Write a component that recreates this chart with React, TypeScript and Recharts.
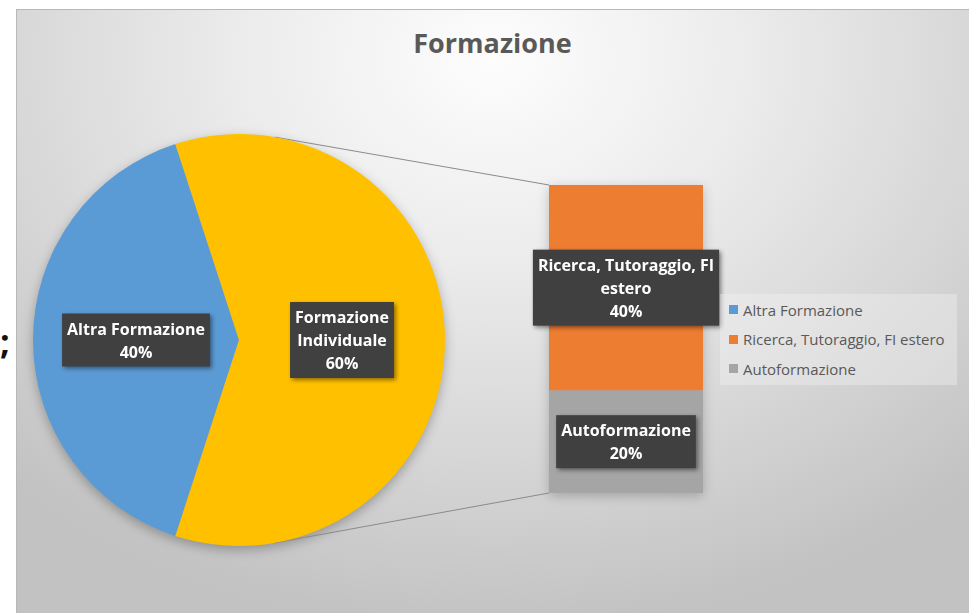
import React from 'react';
import { PieChart, Pie, Cell, BarChart, Bar, XAxis, YAxis, Legend, LabelList } from 'recharts';

// valori (percentuali)
const pieNames = ['Altra Formazione', 'Formazione Individuale'];
const altraValue = 40;
const barNames = ['Ricerca, Tutoraggio, FI estero', 'Autoformazione'];
const barValues = [40, 20];
const legendNames = ['Altra Formazione', 'Ricerca, Tutoraggio, FI estero', 'Autoformazione'];

const COLORS = {
  altra: '#5B9BD5',
  indiv: '#FFC000',
  ricerca: '#ED7D31',
  auto: '#A5A5A5',
};
const legendColors = [COLORS.altra, COLORS.ricerca, COLORS.auto];

const W = 969;
const H = 613;
const FONT = "'Open Sans', 'Noto Sans', sans-serif";

// geometria
const PIE_CX = 239;
const PIE_CY = 340;
const PIE_R = 206;
const BAR_MARGIN = { top: 185, right: 266, bottom: 120, left: 549 };

const barTotal = barValues.reduce((a, b) => a + b, 0);
const total = altraValue + barTotal;

const pieData = [
  { name: pieNames[0], value: altraValue },
  { name: pieNames[1], value: barTotal },
];
const pieColors = [COLORS.altra, COLORS.indiv];

const barData = [{ name: pieNames[1], ricerca: barValues[0], auto: barValues[1] }];

const pct = (v: number) => `${Math.round((v / total) * 100)}%`;

const LABEL_SIZE = 16;
let ctx: CanvasRenderingContext2D | null = null;
const measure = (s: string) => {
  if (!ctx) ctx = document.createElement('canvas').getContext('2d');
  if (!ctx) return s.length * 9;
  ctx.font = `bold ${LABEL_SIZE}px ${FONT}`;
  return ctx.measureText(s).width;
};

const wrap = (text: string, maxW: number) => {
  const words = text.split(' ');
  const lines: string[] = [];
  let cur = '';
  words.forEach((w) => {
    const next = cur ? cur + ' ' + w : w;
    if (cur && measure(next) > maxW) {
      lines.push(cur);
      cur = w;
    } else cur = next;
  });
  if (cur) lines.push(cur);
  return lines;
};

const LINE_H = 23;

const DarkLabel = ({ x, y, lines }: { x: number; y: number; lines: string[] }) => {
  const w = Math.max(...lines.map(measure)) + 10;
  const h = lines.length * LINE_H + 7;
  return (
    <g style={{ filter: 'drop-shadow(2px 2px 2px rgba(0,0,0,0.45))' }}>
      <rect x={x - w / 2} y={y - h / 2} width={w} height={h} fill="#404040" />
      {lines.map((l, i) => (
        <text
          key={i}
          x={x}
          y={y - ((lines.length - 1) * LINE_H) / 2 + i * LINE_H}
          textAnchor="middle"
          dominantBaseline="central"
          fill="#ffffff"
          fontFamily={FONT}
          fontWeight="bold"
          fontSize={LABEL_SIZE}
        >
          {l}
        </text>
      ))}
    </g>
  );
};

const renderPieLabel = (p: any) => {
  const RAD = Math.PI / 180;
  const r = p.outerRadius * 0.5;
  const x = p.cx + r * Math.cos(-p.midAngle * RAD);
  const y = p.cy + r * Math.sin(-p.midAngle * RAD);
  const name = p.name ?? p.payload?.name;
  return <DarkLabel x={x} y={y} lines={[...wrap(name, 160), pct(p.value)]} />;
};

const barLabel = (name: string) => (p: any) => {
  const x = Number(p.x) + Number(p.width) / 2;
  const y = Number(p.y) + Number(p.height) / 2;
  return <DarkLabel x={x} y={y} lines={[...wrap(name, 190), pct(Number(p.value))]} />;
};

const LegendBox = () => (
  <div
    style={{
      width: 237,
      height: 91,
      background: 'rgba(245,245,245,0.35)',
      boxSizing: 'border-box',
      paddingTop: 1,
      paddingLeft: 9,
    }}
  >
    {legendNames.map((n, i) => (
      <div key={n} style={{ display: 'flex', alignItems: 'center', height: 29.5 }}>
        <span style={{ width: 9, height: 9, background: legendColors[i], marginRight: 5 }} />
        <span style={{ fontFamily: FONT, fontSize: 15, color: '#595959' }}>{n}</span>
      </div>
    ))}
  </div>
);

export default function App() {
  const RAD = Math.PI / 180;
  const a = 80 * RAD;
  const barLeft = BAR_MARGIN.left;
  const barTop = BAR_MARGIN.top;
  const barBottom = H - BAR_MARGIN.bottom;
  const barWidth = W - BAR_MARGIN.left - BAR_MARGIN.right;
  const top = { x: PIE_CX + PIE_R * Math.cos(a), y: PIE_CY - PIE_R * Math.sin(a) };
  const bot = { x: PIE_CX + PIE_R * Math.cos(a), y: PIE_CY + PIE_R * Math.sin(a) };

  return (
    <div style={{ position: 'relative', width: W, height: H, background: '#ffffff', overflow: 'hidden' }}>
      <style>{'body{margin:0}'}</style>
      <div
        style={{
          position: 'absolute',
          left: 0,
          top: 318,
          fontFamily: FONT,
          fontWeight: 'bold',
          fontSize: 34,
          color: '#111',
        }}
      >
        ;
      </div>
      <div
        style={{
          position: 'absolute',
          left: 16,
          top: 9,
          width: W - 16,
          height: H - 9,
          boxSizing: 'border-box',
          borderTop: '1px solid #b8b8b8',
          borderLeft: '1px solid #b8b8b8',
          background:
            'radial-gradient(ellipse 75% 95% at 50% 8%, #fdfdfd 0%, #ececec 35%, #d6d6d6 70%, #c2c2c2 100%)',
        }}
      />
      <div
        style={{
          position: 'absolute',
          left: 16,
          top: 27,
          width: W - 16,
          textAlign: 'center',
          fontFamily: FONT,
          fontWeight: 'bold',
          fontSize: 27,
          lineHeight: '32px',
          color: '#595959',
        }}
      >
        Formazione
      </div>
      <svg width={W} height={H} style={{ position: 'absolute', left: 0, top: 0 }}>
        <defs>
          <filter id="soft" x="-20%" y="-20%" width="140%" height="140%">
            <feGaussianBlur stdDeviation="6" />
          </filter>
        </defs>
        <circle cx={PIE_CX} cy={PIE_CY + 4} r={PIE_R} fill="rgba(0,0,0,0.28)" filter="url(#soft)" />
        <rect
          x={barLeft}
          y={barTop + 3}
          width={barWidth}
          height={barBottom - barTop}
          fill="rgba(0,0,0,0.22)"
          filter="url(#soft)"
        />
        <line x1={top.x} y1={top.y} x2={barLeft} y2={barTop} stroke="#8a8a8a" strokeWidth={1} />
        <line x1={bot.x} y1={bot.y} x2={barLeft} y2={barBottom} stroke="#8a8a8a" strokeWidth={1} />
      </svg>
      <div style={{ position: 'absolute', left: 0, top: 0 }}>
        <PieChart width={W} height={H} margin={{ top: 0, right: 0, bottom: 0, left: 0 }}>
          <Pie
            data={pieData}
            dataKey="value"
            nameKey="name"
            cx={PIE_CX}
            cy={PIE_CY}
            outerRadius={PIE_R}
            startAngle={108}
            endAngle={468}
            stroke="none"
            labelLine={false}
            label={renderPieLabel}
            isAnimationActive={false}
          >
            {pieData.map((d, i) => (
              <Cell key={d.name} fill={pieColors[i]} />
            ))}
          </Pie>
        </PieChart>
      </div>
      <div style={{ position: 'absolute', left: 0, top: 0 }}>
        <BarChart width={W} height={H} data={barData} margin={BAR_MARGIN} barCategoryGap={0}>
          <XAxis dataKey="name" hide />
          <YAxis hide domain={[0, barTotal]} />
          <Legend
            layout="horizontal"
            verticalAlign="middle"
            align="center"
            content={() => <LegendBox />}
            wrapperStyle={{ position: 'absolute', left: 720, top: 294, width: 237, height: 91 }}
          />
          <Bar dataKey="auto" name={barNames[1]} stackId="a" fill={COLORS.auto} isAnimationActive={false}>
            <LabelList dataKey="auto" content={barLabel(barNames[1])} />
          </Bar>
          <Bar dataKey="ricerca" name={barNames[0]} stackId="a" fill={COLORS.ricerca} isAnimationActive={false}>
            <LabelList dataKey="ricerca" content={barLabel(barNames[0])} />
          </Bar>
        </BarChart>
      </div>
    </div>
  );
}
